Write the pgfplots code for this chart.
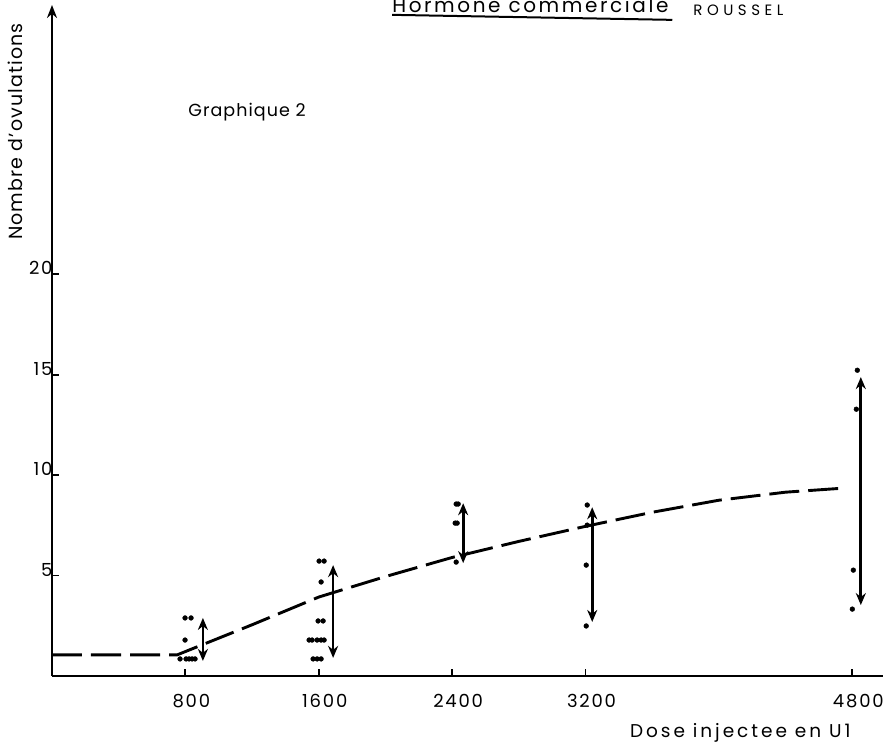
\documentclass[border=0pt]{standalone}
\usepackage{fontspec}
\setmainfont{Poppins}[LetterSpace=6]
\usepackage{pgfplots}
\pgfplotsset{compat=1.18}
\usetikzlibrary{arrows.meta,calc}
\newcommand{\tickfont}{\fontsize{18}{21}\selectfont\addfontfeature{LetterSpace=10}}
\begin{document}
\begin{tikzpicture}
\begin{axis}[name=ax, scale only axis, width=831pt, height=671pt,
  xmin=0, xmax=4984, ymin=0, ymax=33.4,
  axis x line=bottom, axis y line=left,
  x axis line style={-, line width=2.8pt},
  y axis line style={-{Stealth[length=13pt,width=10pt]}, line width=2.8pt},
  xtick={800,1600,2400,3200,4800}, ytick={5,10,15,20},
  tick align=inside, major tick length=7pt,
  tick style={line width=1.8pt, black},
  scaled ticks=false,
  /pgf/number format/.cd, 1000 sep={}, assume math mode=true,
  /pgfplots/.cd,
  xticklabel style={font=\tickfont, xshift=6pt, yshift=-15pt},
  yticklabel style={font=\tickfont, xshift=4pt, yshift=6pt},
  clip=false]

% dashed mean curve
\addplot[black, line width=2.9pt, dash pattern=on 30pt off 9pt] coordinates {
 (0,1.05) (750,1.05) (1200,2.55) (1600,3.93) (2000,4.95) (2400,5.9)
 (2800,6.7) (3200,7.45) (3600,8.15) (4000,8.75) (4400,9.15) (4745,9.35)};

% individual observations
\addplot[only marks, mark=*, mark size=2.4pt, black] coordinates {
 (798,2.89) (834,2.89) (798,1.79)
 (768,0.85) (804,0.85) (822,0.85) (840,0.85) (858,0.85)
 (1602,5.72) (1632,5.72) (1614,4.68) (1596,2.74) (1626,2.74)
 (1542,1.79) (1560,1.79) (1590,1.79) (1614,1.79) (1632,1.79)
 (1566,0.85) (1590,0.85) (1614,0.85)
 (2424,8.56) (2436,8.56) (2418,7.61) (2430,7.61) (2424,5.67)
 (3210,8.51) (3210,7.51) (3204,5.52) (3204,2.49)
 (4830,15.22) (4824,13.28) (4806,5.27) (4800,3.33)};

% ranges (double-headed arrows)
\pgfplotsset{rng/.style={black, line width=2.7pt,
  {Stealth[length=12pt,width=10pt]}-{Stealth[length=12pt,width=10pt]}}}
\addplot[rng] coordinates {(905,0.75) (905,2.89)};
\addplot[rng] coordinates {(1686,0.9) (1686,5.52)};
\addplot[rng] coordinates {(2466,5.62) (2466,8.6)};
\addplot[rng] coordinates {(3240,2.69) (3240,8.4)};
\addplot[rng] coordinates {(4851,3.53) (4851,14.88)};

% texts
\node[font=\fontsize{17.5}{20}\selectfont] at (axis cs:1170,28.06) {Graphique 2};
\node[font=\fontsize{20}{23}\selectfont\addfontfeature{LetterSpace=13}, anchor=base west, inner sep=0pt] at (axis cs:2040,33.03) {Hormone commerciale};
\draw[line width=2pt] (axis cs:2040,32.91) -- (axis cs:3720,32.66);
\node[font=\fontsize{15}{18}\selectfont\addfontfeature{LetterSpace=30}, anchor=base west, inner sep=0pt] at (axis cs:3846,32.89) {ROUSSEL};
\node[font=\fontsize{19}{22}\selectfont, rotate=90] at (axis cs:-222,27.1) {Nombre d'ovulations};
\node[font=\fontsize{18.5}{22}\selectfont\addfontfeature{LetterSpace=16}] at (axis cs:4128,-2.84) {Dose injectee en U1};
\end{axis}
\pgfresetboundingbox
\path ($(ax.south west)+(-52pt,-71pt)$) rectangle ($(ax.north east)+(11pt,5pt)$);
\end{tikzpicture}
\end{document}
